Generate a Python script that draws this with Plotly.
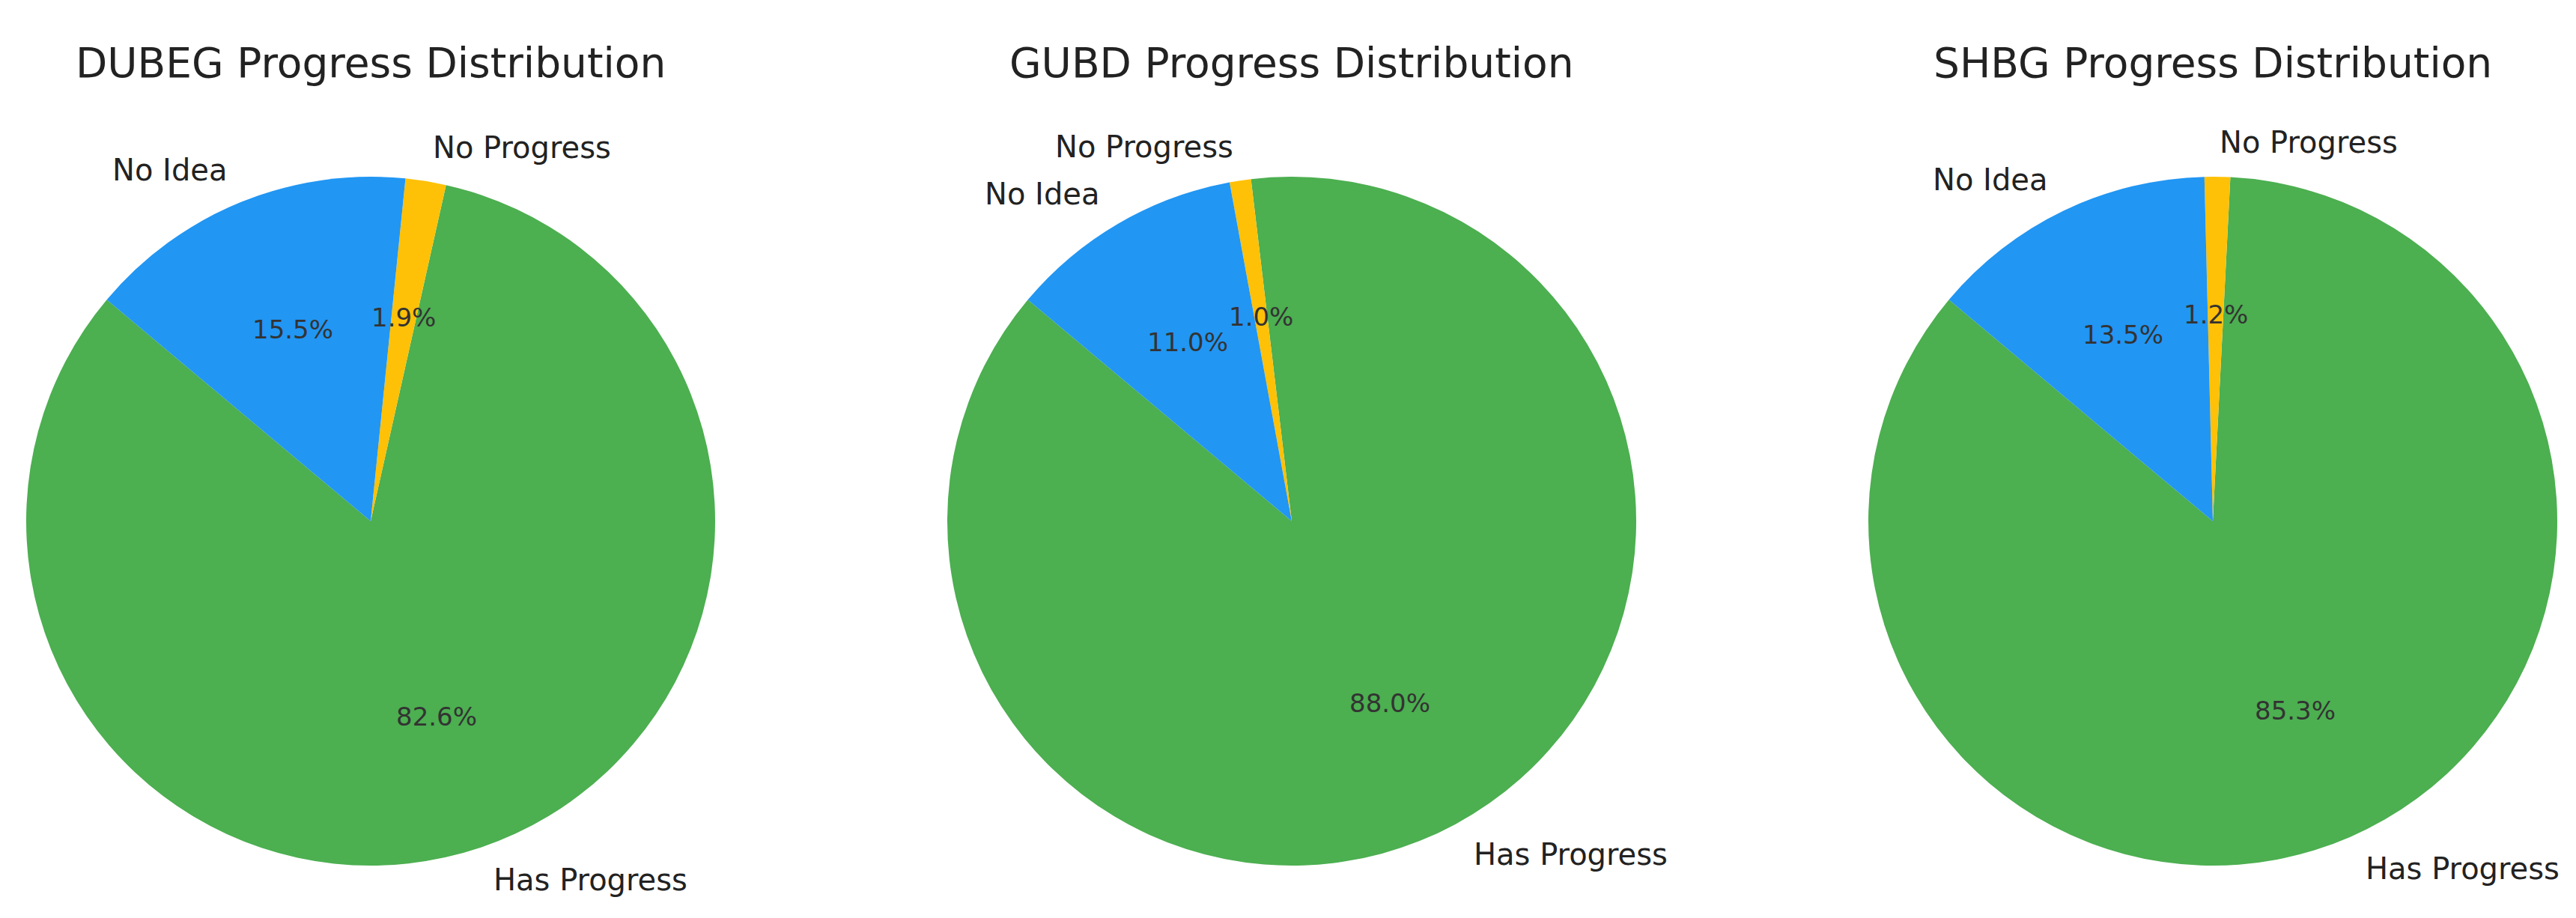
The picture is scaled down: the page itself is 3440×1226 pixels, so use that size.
import math
import plotly.graph_objects as go

# ---- data ----
titles = ["DUBEG Progress Distribution", "GUBD Progress Distribution", "SHBG Progress Distribution"]
labels = ["Has Progress", "No Progress", "No Idea"]
dubeg_values = [82.6, 1.9, 15.5]
gubd_values = [88.0, 1.0, 11.0]
shbg_values = [85.3, 1.2, 13.5]
colors = ["#4CAF50", "#FFC107", "#2196F3"]

series = [dubeg_values, gubd_values, shbg_values]

# ---- layout constants ----
W, H = 3440, 1226
centers_x = [487, 1717, 2947]
center_y = 688
R = 460
start_angle = 140  # degrees, math convention, counterclockwise
font_family = "DejaVu Sans"
text_color = "#222222"
title_size = 55
label_size = 40
pct_size = 34

fig = go.Figure()
annotations = []

for title, vals, cx in zip(titles, series, centers_x):
    total = sum(vals)
    dom_x = [(cx - R) / W, (cx + R) / W]
    dom_y = [1 - (center_y + R) / H, 1 - (center_y - R) / H]
    # plotly (counterclockwise): rotation marks where the first slice ends
    first_end = start_angle + 360.0 * vals[0] / total
    rot = ((90 - first_end) + 180) % 360 - 180
    fig.add_trace(go.Pie(
        labels=labels, values=vals, sort=False,
        direction="counterclockwise", rotation=rot,
        marker=dict(colors=colors, line=dict(width=0)),
        textinfo="none", hoverinfo="label+percent",
        domain=dict(x=dom_x, y=dom_y), showlegend=False,
    ))
    ang = start_angle
    for lab, v in zip(labels, vals):
        span = 360.0 * v / total
        mid = math.radians(ang + span / 2)
        ang += span
        c, s = math.cos(mid), math.sin(mid)
        # outer label
        lx = cx + 1.1 * R * c
        ly = center_y - 1.1 * R * s
        annotations.append(dict(
            x=lx / W, y=1 - ly / H, xref="paper", yref="paper",
            text=lab, showarrow=False,
            xanchor="left" if c > 0 else "right", yanchor="middle",
            font=dict(family=font_family, size=label_size, color=text_color),
        ))
        # percentage
        px = cx + 0.6 * R * c
        py = center_y - 0.6 * R * s
        annotations.append(dict(
            x=px / W, y=1 - py / H, xref="paper", yref="paper",
            text=f"{100.0 * v / total:.1f}%", showarrow=False,
            xanchor="center", yanchor="middle",
            font=dict(family=font_family, size=pct_size, color="#333333"),
        ))
    annotations.append(dict(
        x=cx / W, y=1 - 76 / H, xref="paper", yref="paper",
        text=title, showarrow=False, xanchor="center", yanchor="middle",
        font=dict(family=font_family, size=title_size, color=text_color),
    ))

fig.update_layout(
    width=W, height=H,
    margin=dict(l=0, r=0, t=0, b=0),
    paper_bgcolor="white", plot_bgcolor="white",
    annotations=annotations,
)

fig.write_html("out.html")
